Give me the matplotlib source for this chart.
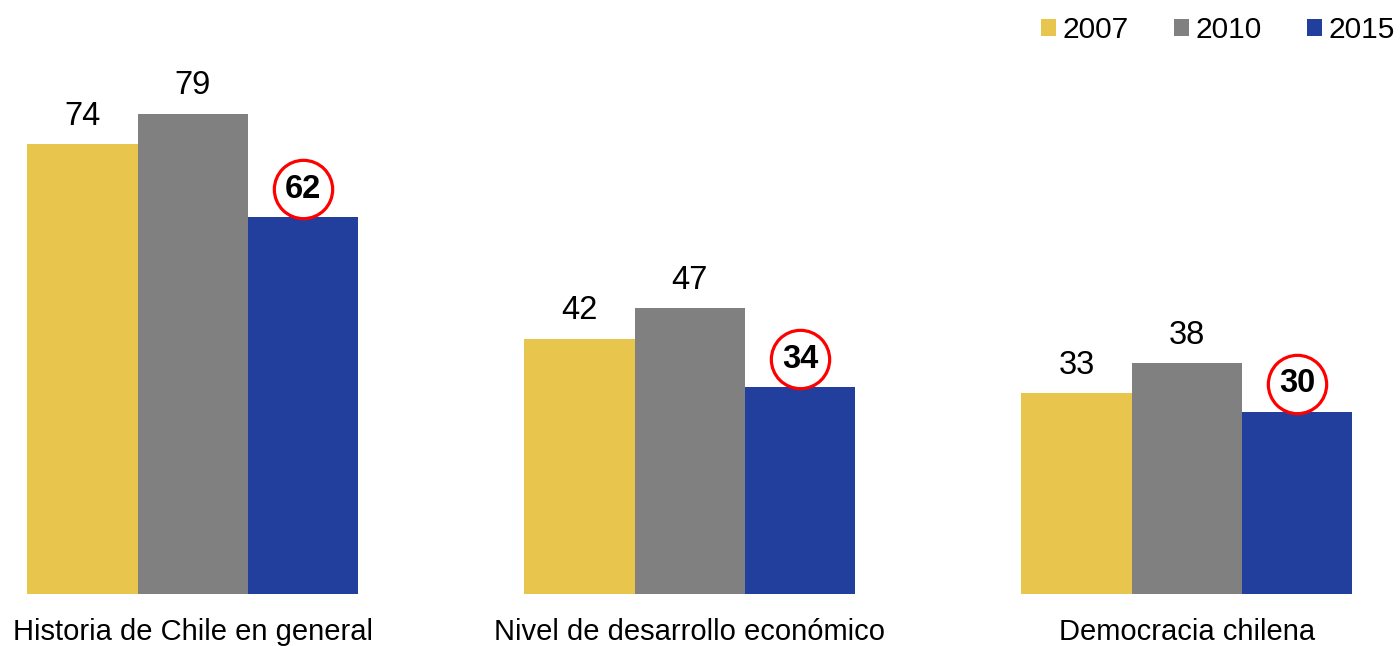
import matplotlib.pyplot as plt
import matplotlib.transforms as mtransforms
import numpy as np

plt.rcParams['font.family'] = ['Liberation Sans', 'DejaVu Sans']

categories = ['Historia de Chile en general', 'Nivel de desarrollo económico', 'Democracia chilena']
years = ['2007', '2010', '2015']
v2007 = [74, 42, 33]
v2010 = [79, 47, 38]
v2015 = [62, 34, 30]
colors = ['#E8C64E', '#808080', '#233F9E']

fig = plt.figure(figsize=(14, 6.46), dpi=100)
ax = fig.add_axes([0, 0.0805, 1, 0.9195])

x = np.arange(len(categories))
w = 0.222
series = [v2007, v2010, v2015]
for i, (vals, c, yr) in enumerate(zip(series, colors, years)):
    pos = x + (i - 1) * w
    ax.bar(pos, vals, width=w, color=c, label=yr)
    if i < 2:
        for p, v in zip(pos, vals):
            ax.annotate(str(v), (p, v), xytext=(0, 20), textcoords='offset points',
                        ha='center', va='center', fontsize=23.5)
    else:
        off = mtransforms.offset_copy(ax.transData, fig=fig, y=28, units='dots')
        ax.plot(pos, vals, 'o', ms=42, mfc='white', mec='red', mew=2.3,
                linestyle='none', transform=off)
        for p, v in zip(pos, vals):
            ax.annotate(str(v), (p, v), xytext=(0, 20), textcoords='offset points',
                        ha='center', va='center', fontsize=23.5, fontweight='bold')

ax.set_xlim(-0.388, 2.429)
ax.set_ylim(0, 97.7)
for s in ax.spines.values():
    s.set_visible(False)
ax.set_yticks([])
ax.set_xticks(x)
ax.set_xticklabels(categories, fontsize=21)
ax.tick_params(axis='x', length=0, pad=17)

fig.legend(loc='upper right', bbox_to_anchor=(1.008, 1.0), ncol=3, frameon=False,
           fontsize=21.5, handlelength=0.5, handleheight=0.5, handletextpad=0.23,
           columnspacing=1.5, borderaxespad=0.15)

fig.savefig('out.png', dpi=100)
